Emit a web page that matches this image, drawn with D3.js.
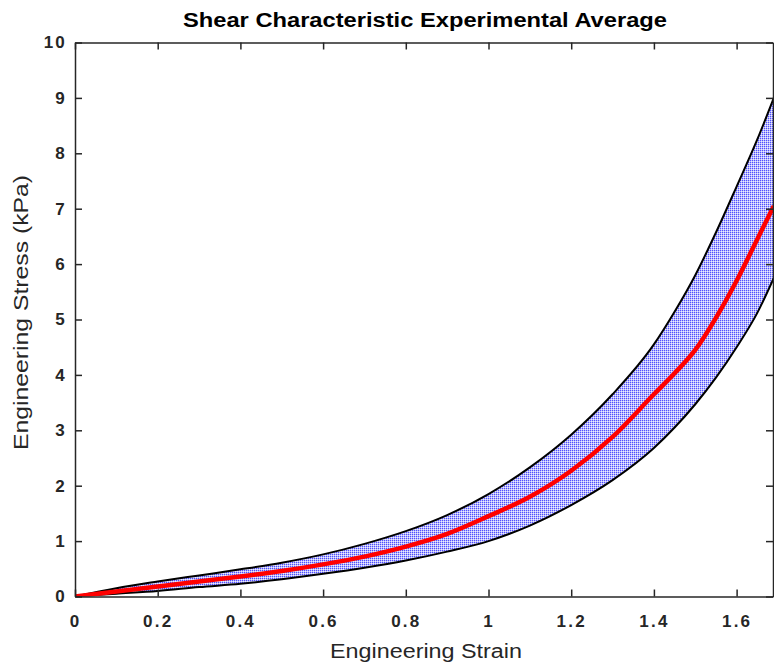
<!DOCTYPE html>
<html>
<head>
<meta charset="utf-8">
<script src="https://cdn.jsdelivr.net/npm/d3@7"></script>
<style>
  html, body { margin: 0; padding: 0; background: #fff; }
  svg { display: block; font-family: "Liberation Sans", Arial, sans-serif; }
</style>
</head>
<body>
<svg id="chart" width="774" height="666"></svg>
<script>
const strain = [0, 0.1, 0.2, 0.3, 0.4, 0.5, 0.6, 0.7, 0.8, 0.9, 1.0, 1.1, 1.2, 1.3, 1.4, 1.45, 1.5, 1.55, 1.6, 1.65, 1.69];
const upperStress = [0, 0.15, 0.27, 0.38, 0.49, 0.61, 0.76, 0.95, 1.18, 1.47, 1.85, 2.33, 2.92, 3.65, 4.55, 5.14, 5.8, 6.57, 7.4, 8.25, 9.0];
const meanStress = [0, 0.09, 0.18, 0.27, 0.36, 0.46, 0.58, 0.72, 0.9, 1.13, 1.45, 1.8, 2.27, 2.88, 3.65, 4.03, 4.45, 5.03, 5.7, 6.45, 7.05];
const lowerStress = [0, 0.05, 0.1, 0.17, 0.23, 0.31, 0.41, 0.52, 0.65, 0.81, 1.0, 1.28, 1.65, 2.1, 2.68, 3.05, 3.47, 3.95, 4.5, 5.12, 5.75];
const xTicks = [0, 0.2, 0.4, 0.6, 0.8, 1, 1.2, 1.4, 1.6];
const yTicks = [0, 1, 2, 3, 4, 5, 6, 7, 8, 9, 10];
const titleText = "Shear Characteristic Experimental Average";
const xLabel = "Engineering Strain";
const yLabel = "Engineering Stress (kPa)";

const svg = d3.select("#chart");
const L = 75, R = 773, T = 42.5, B = 596.5;
const x = d3.scaleLinear().domain([0, 1.688]).range([L, R]);
const y = d3.scaleLinear().domain([0, 10]).range([B, T]);

// pattern fill (MATLAB-like dithered light blue)
const defs = svg.append("defs");
const pat = defs.append("pattern").attr("id", "hatch").attr("patternUnits", "userSpaceOnUse")
  .attr("width", 2).attr("height", 2);
pat.append("rect").attr("width", 2).attr("height", 2).attr("fill", "#eaeaff");
pat.append("rect").attr("width", 2).attr("height", 1).attr("fill", "#babafc");
pat.append("rect").attr("width", 1).attr("height", 2).attr("fill", "#babafc");
pat.append("rect").attr("width", 1).attr("height", 1).attr("fill", "#5050ff");

defs.append("clipPath").attr("id", "clip").append("rect")
  .attr("x", L).attr("y", T).attr("width", R - L).attr("height", B - T);

const data = strain.map((s, i) => ({s, u: upperStress[i], m: meanStress[i], l: lowerStress[i]}));
const curve = d3.curveMonotoneX;

const g = svg.append("g").attr("clip-path", "url(#clip)");
g.append("path").datum(data)
  .attr("d", d3.area().x(d => x(d.s)).y0(d => y(d.l)).y1(d => y(d.u)).curve(curve))
  .attr("fill", "url(#hatch)");
g.append("path").datum(data)
  .attr("d", d3.line().x(d => x(d.s)).y(d => y(d.u)).curve(curve))
  .attr("fill", "none").attr("stroke", "#000").attr("stroke-width", 2);
g.append("path").datum(data)
  .attr("d", d3.line().x(d => x(d.s)).y(d => y(d.l)).curve(curve))
  .attr("fill", "none").attr("stroke", "#000").attr("stroke-width", 2);
g.append("path").datum(data)
  .attr("d", d3.line().x(d => x(d.s)).y(d => y(d.m)).curve(curve))
  .attr("fill", "none").attr("stroke", "#ff0000").attr("stroke-width", 4.5);

// axes
const tickLen = 7;
const axB = d3.axisBottom(x).tickValues(xTicks).tickSizeInner(-tickLen).tickSizeOuter(0).tickPadding(18).tickFormat(d3.format("~g"));
const axT = d3.axisTop(x).tickValues(xTicks).tickSizeInner(-tickLen).tickSizeOuter(0).tickFormat("");
const axL = d3.axisLeft(y).tickValues(yTicks).tickSizeInner(-tickLen).tickSizeOuter(0).tickPadding(8).tickFormat(d3.format("d"));
const axR = d3.axisRight(y).tickValues(yTicks).tickSizeInner(-tickLen).tickSizeOuter(0).tickFormat("");

function style(sel) {
  sel.select(".domain").attr("stroke", "#262626").attr("stroke-width", 1.5);
  sel.selectAll(".tick line").attr("stroke", "#262626").attr("stroke-width", 1.5);
  sel.selectAll(".tick text").attr("fill", "#262626").attr("font-size", 17).attr("font-weight", "bold")
    .attr("letter-spacing", 2.2)
    .attr("font-family", "'Liberation Sans', Arial, sans-serif");
}
svg.append("g").attr("transform", `translate(0,${B})`).call(axB).call(style);
svg.append("g").attr("transform", `translate(0,${T})`).call(axT).call(style);
svg.append("g").attr("transform", `translate(${L},0)`).call(axL).call(style);
svg.append("g").attr("transform", `translate(${R},0)`).call(axR).call(style);

svg.append("text").attr("x", 425).attr("y", 27).attr("text-anchor", "middle")
  .attr("font-size", 20).attr("font-weight", "bold").attr("fill", "#000")
  .attr("textLength", 484).attr("lengthAdjust", "spacingAndGlyphs").text(titleText);
svg.append("text").attr("x", 426).attr("y", 658).attr("text-anchor", "middle")
  .attr("font-size", 20).attr("fill", "#262626")
  .attr("textLength", 192).attr("lengthAdjust", "spacingAndGlyphs").text(xLabel);
svg.append("text").attr("transform", `translate(28,312.5) rotate(-90)`).attr("text-anchor", "middle")
  .attr("font-size", 20).attr("fill", "#262626")
  .attr("textLength", 275).attr("lengthAdjust", "spacingAndGlyphs").text(yLabel);
</script>
</body>
</html>
